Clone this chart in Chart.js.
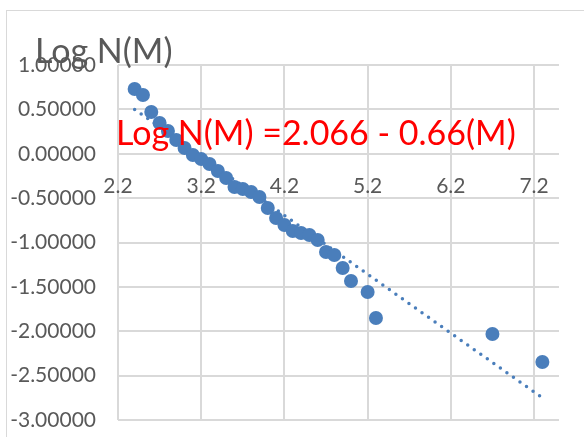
<!DOCTYPE html>
<html>
<head>
<meta charset="utf-8">
<script src="https://cdn.jsdelivr.net/npm/chart.js@4"></script>
<style>
  html, body { margin: 0; padding: 0; background: #ffffff; }
  canvas { display: block; }
</style>
</head>
<body>
<canvas id="c" width="584" height="437"></canvas>
<script>
// Magnitude M
const magnitudes = [2.4, 2.5, 2.6, 2.7, 2.8, 2.9, 3.0, 3.1, 3.2, 3.3, 3.4, 3.5, 3.6, 3.7, 3.8, 3.9,
                    4.0, 4.1, 4.2, 4.3, 4.4, 4.5, 4.6, 4.7, 4.8, 4.9, 5.0, 5.2, 5.3, 6.7, 7.3];
// Log N(M)
const logN = [0.730, 0.662, 0.470, 0.346, 0.256, 0.155, 0.065, -0.014, -0.060, -0.115, -0.194, -0.273,
              -0.375, -0.397, -0.431, -0.487, -0.611, -0.724, -0.803, -0.870, -0.893, -0.915, -0.972,
              -1.107, -1.141, -1.287, -1.434, -1.558, -1.851, -2.031, -2.346];
// Trendline end points
const trendX = [2.4, 7.3];
const trendY = [0.50, -2.75];
const xTicks = [2.2, 3.2, 4.2, 5.2, 6.2, 7.2];
const yRange = [-3, 1];
const xRange = [2.2, 7.5];
const titleText = 'Log N(M)';
const equationText = 'Log N(M) =2.066 - 0.66(M)';

const FONT = 'Lato, "Open Sans", sans-serif';
const BLUE = '#4a7ebb';
const GRID = '#d9d9d9';

const textPlugin = {
  id: 'texts',
  beforeDraw(chart) {
    const ctx = chart.ctx;
    ctx.save();
    ctx.strokeStyle = GRID;
    ctx.lineWidth = 1;
    ctx.strokeRect(6.5, 10.5, 700, 600);
    ctx.restore();
  },
  afterDatasetsDraw(chart) {
    const ctx = chart.ctx;
    ctx.save();
    ctx.textBaseline = 'alphabetic';
    ctx.textAlign = 'left';
    ctx.fillStyle = '#595959';
    ctx.font = '34px ' + FONT;
    ctx.fillText(titleText, 35, 63);
    ctx.fillStyle = '#ff0000';
    ctx.font = '34px ' + FONT;
    ctx.fillText(equationText, 116, 145);
    ctx.restore();
  }
};

new Chart(document.getElementById('c'), {
  type: 'scatter',
  data: {
    datasets: [
      {
        label: 'Log N(M)',
        data: magnitudes.map((m, i) => ({x: m, y: logN[i]})),
        backgroundColor: BLUE,
        borderColor: BLUE,
        borderWidth: 0,
        pointRadius: 7,
        pointHoverRadius: 7,
        order: 1
      },
      {
        label: 'trend',
        type: 'line',
        data: trendX.map((x, i) => ({x: x, y: trendY[i]})),
        borderColor: BLUE,
        borderWidth: 3.5,
        borderDash: [0, 8],
        borderCapStyle: 'round',
        pointRadius: 0,
        fill: false,
        order: 2
      }
    ]
  },
  options: {
    responsive: false,
    animation: false,
    devicePixelRatio: 1,
    layout: { padding: { left: 0, top: 65, right: 25, bottom: 17 } },
    plugins: { legend: { display: false }, tooltip: { enabled: false }, title: { display: false } },
    scales: {
      x: {
        type: 'linear',
        min: xRange[0],
        max: xRange[1],
        position: { y: 0 },
        afterBuildTicks(scale) { scale.ticks = xTicks.map(v => ({value: v})); },
        afterFit(scale) { scale.height = 0; scale.paddingTop = 0; scale.paddingBottom = 0; },
        grid: { color: GRID, lineWidth: 2, drawTicks: false },
        border: { display: false },
        ticks: {
          padding: 20,
          color: '#595959',
          font: { family: FONT, size: 21 },
          maxRotation: 0,
          autoSkip: false,
          callback: v => v.toFixed(1)
        }
      },
      y: {
        type: 'linear',
        min: yRange[0],
        max: yRange[1],
        afterFit(scale) { scale.width = 118; scale.paddingTop = 0; scale.paddingBottom = 0; },
        grid: { color: GRID, lineWidth: 2, drawTicks: false },
        border: { display: false },
        ticks: {
          stepSize: 0.5,
          padding: 22,
          color: '#595959',
          font: { family: FONT, size: 21 },
          callback: v => Number(v).toFixed(5)
        }
      }
    }
  },
  plugins: [textPlugin]
});
</script>
</body>
</html>
